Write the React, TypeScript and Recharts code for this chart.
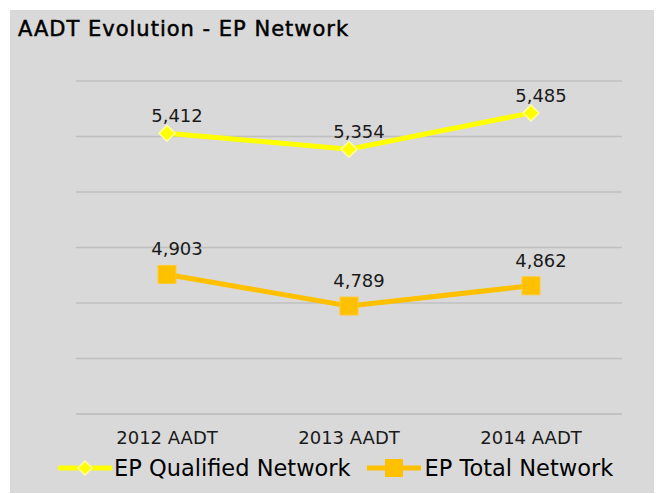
import React from 'react';
import { LineChart, Line, XAxis, YAxis, CartesianGrid, LabelList } from 'recharts';

// values
const CATEGORIES = ['2012 AADT', '2013 AADT', '2014 AADT'];
const QUALIFIED = [5412, 5354, 5485];
const TOTAL = [4903, 4789, 4862];
const Y_TICKS = [4400, 4600, 4800, 5000, 5200, 5400, 5600];

const YELLOW = '#ffff00';
const ORANGE = '#ffc000';
const FONT = '"DejaVu Sans", Verdana, sans-serif';

const data = CATEGORIES.map((name, i) => ({ name, qualified: QUALIFIED[i], total: TOTAL[i] }));

const fmt = (v: number) => v.toLocaleString('en-US');

const DiamondDot = (props: any) => {
  const { cx, cy } = props;
  if (cx == null || cy == null) return null;
  const r = 8;
  return (
    <polygon
      points={`${cx},${cy - r} ${cx + r},${cy} ${cx},${cy + r} ${cx - r},${cy}`}
      fill={YELLOW}
      stroke="#ffffa6"
      strokeWidth={1.5}
    />
  );
};

const SquareDot = (props: any) => {
  const { cx, cy } = props;
  if (cx == null || cy == null) return null;
  return <rect x={cx - 9} y={cy - 9} width={18} height={18} fill={ORANGE} stroke="#ffcb33" strokeWidth={1} />;
};

const makeLabel = (dy: number) => (props: any) => {
  const { x, y, value } = props;
  if (x == null || y == null) return null;
  return (
    <text x={x + 10} y={y - dy} textAnchor="middle" fontSize={18} fontFamily={FONT} fill="#1a1a1a">
      {fmt(value)}
    </text>
  );
};

const LegendIcon = ({ color, shape }: { color: string; shape: 'diamond' | 'square' }) => (
  <svg width={54} height={20} style={{ display: 'block' }}>
    <line x1={0} y1={10} x2={54} y2={10} stroke={color} strokeWidth={5} />
    {shape === 'diamond' ? (
      <polygon points="27,3 34,10 27,17 20,10" fill={color} stroke="#ffffa6" strokeWidth={1.5} />
    ) : (
      <rect x={18} y={1} width={18} height={18} fill={color} />
    )}
  </svg>
);

export default function App() {
  return (
    <div style={{ position: 'fixed', left: 0, top: 0, width: 661, height: 494, background: '#ffffff' }}>
      <div style={{ position: 'absolute', left: 10, top: 10, width: 644, height: 483, background: '#d9d9d9' }} />
      <div
        style={{
          position: 'absolute', left: 18, top: 17, fontFamily: FONT, fontSize: 21,
          letterSpacing: 1, WebkitTextStroke: '0.5px #000', color: '#000', whiteSpace: 'nowrap',
        }}
      >
        AADT Evolution - EP Network
      </div>
      <div style={{ position: 'absolute', left: 0, top: 0 }}>
        <LineChart width={661} height={494} data={data} margin={{ top: 81, right: 39, left: 76, bottom: 20 }}>
          <CartesianGrid horizontal vertical={false} stroke="#bfbfbf" strokeWidth={1.5} />
          <XAxis
            dataKey="name"
            height={60}
            padding={{ left: 91, right: 91 }}
            axisLine={{ stroke: '#bfbfbf', strokeWidth: 1.5 }}
            tickLine={false}
            tickSize={0}
            tickMargin={17}
            tick={{ fontSize: 18, fill: '#1a1a1a', fontFamily: FONT }}
          />
          <YAxis hide domain={[4400, 5600]} ticks={Y_TICKS} />
          <Line
            dataKey="qualified"
            stroke={YELLOW}
            strokeWidth={5}
            dot={<DiamondDot />}
            activeDot={false}
            isAnimationActive={false}
          >
            <LabelList dataKey="qualified" content={makeLabel(11)} />
          </Line>
          <Line
            dataKey="total"
            stroke={ORANGE}
            strokeWidth={5}
            dot={<SquareDot />}
            activeDot={false}
            isAnimationActive={false}
          >
            <LabelList dataKey="total" content={makeLabel(19)} />
          </Line>
        </LineChart>
      </div>
      <div
        style={{
          position: 'absolute', left: 58, top: 455, display: 'flex', alignItems: 'center',
          fontFamily: FONT, fontSize: 22.5, color: '#000', whiteSpace: 'nowrap',
        }}
      >
        <LegendIcon color={YELLOW} shape="diamond" />
        <span style={{ marginLeft: 2 }}>EP Qualified Network</span>
        <span style={{ marginLeft: 16 }}><LegendIcon color={ORANGE} shape="square" /></span>
        <span style={{ marginLeft: 4 }}>EP Total Network</span>
      </div>
    </div>
  );
}
